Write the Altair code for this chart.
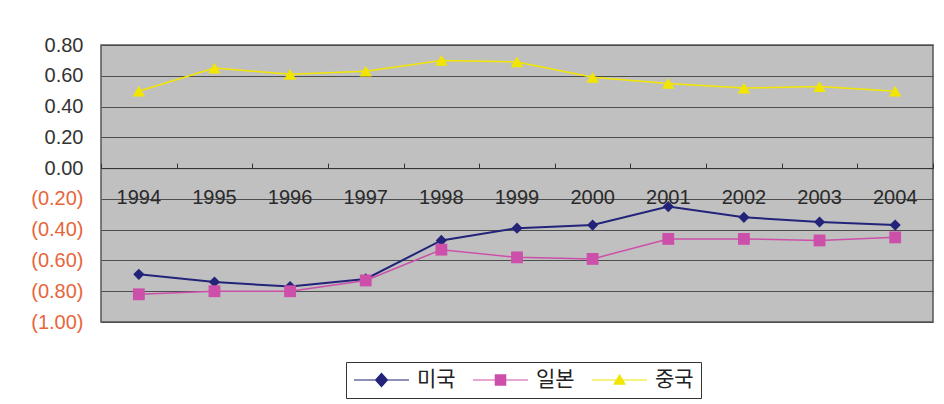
import altair as alt
import pandas as pd

years = ["1994", "1995", "1996", "1997", "1998", "1999", "2000", "2001", "2002", "2003", "2004"]
usa = [-0.69, -0.74, -0.77, -0.72, -0.47, -0.39, -0.37, -0.25, -0.32, -0.35, -0.37]
japan = [-0.82, -0.80, -0.80, -0.73, -0.53, -0.58, -0.59, -0.46, -0.46, -0.47, -0.45]
china = [0.50, 0.65, 0.61, 0.63, 0.70, 0.69, 0.59, 0.55, 0.52, 0.53, 0.50]
series = ["미국", "일본", "중국"]
colors = ["#23237A", "#CC4FAA", "#F2E600"]
line_widths = [2, 1.5, 1.5]
chart_shapes = ["diamond", "square", "triangle-up"]
chart_sizes = [125, 140, 155]
y_ticks = [-1.0, -0.8, -0.6, -0.4, -0.2, 0.0, 0.2, 0.4, 0.6, 0.8]


# ---- legend glyphs: line segment + marker (drawn as stroked hatch so it looks filled)
def _f(v):
    return f"{v:.3f}"


def hatch(half_width_at, y_top, y_bot, step=0.03):
    parts = ["M-1,0H1"]
    y = y_top
    while y <= y_bot + 1e-9:
        hw = half_width_at(y)
        if hw > 0:
            parts.append(f"M{_f(-hw)},{_f(y)}H{_f(hw)}")
        y += step
    return "".join(parts)


_da, _db = 0.22, 0.24
diamond_path = hatch(lambda y: _da * (1 - abs(y) / _db), -_db, _db) + \
    f"M{_f(-_da)},0L0,{_f(-_db)}L{_f(_da)},0L0,{_f(_db)}Z"
_s = 0.19
square_path = hatch(lambda y: _s, -_s, _s) + f"M{_f(-_s)},{_f(-_s)}H{_f(_s)}V{_f(_s)}H{_f(-_s)}Z"
_ty0, _ty1, _tw = -0.19, 0.15, 0.2
triangle_path = hatch(lambda y: _tw * (y - _ty0) / (_ty1 - _ty0), _ty0, _ty1) + \
    f"M0,{_f(_ty0)}L{_f(_tw)},{_f(_ty1)}H{_f(-_tw)}Z"
legend_shapes = [diamond_path, square_path, triangle_path]

rows = []
for s, vals in zip(series, [usa, japan, china]):
    for yr, v in zip(years, vals):
        rows.append({"year": yr, "series": s, "value": v})
df = pd.DataFrame(rows)

W, H = 832, 277
Y_MIN, Y_MAX = -1.0, 0.8
y0 = H * (Y_MAX - 0) / (Y_MAX - Y_MIN)

xscale = alt.Scale(type="band", paddingInner=0, paddingOuter=0)
yscale = alt.Scale(domain=[Y_MIN, Y_MAX], nice=False, zero=False)

# accounting style: negatives in parentheses, positives padded where the ")" would be
label_expr = ("datum.value < 0 ? '(' + format(-datum.value, '.2f') + ')' "
              ": format(datum.value, '.2f') + '\u00a0'")

y_axis = alt.Axis(
    values=y_ticks, labelExpr=label_expr,
    labelColor={"condition": {"test": "datum.value < 0", "value": "#E8653A"}, "value": "#333333"},
    grid=True, gridColor="#4d4d4d", gridWidth=1, ticks=False, tickSize=0,
    domain=False, labelPadding=18, labelFontSize=20, labelFont="Liberation Sans",
    title=None,
)
Y = alt.Y("value:Q", scale=yscale, axis=y_axis)

top_axis = alt.Axis(
    orient="top", offset=-y0, labels=False, ticks=True, tickSize=5,
    tickBand="extent", tickColor="#333333", domain=True, domainColor="#333333",
    grid=False, title=None,
)
bottom_axis = alt.Axis(
    orient="bottom", offset=-(H - y0), labels=True, ticks=False, tickSize=0,
    domain=False, grid=False, labelPadding=19, labelFontSize=20,
    labelFont="Liberation Sans", labelColor="#2a2a2a", labelAngle=0, title=None,
)

base = alt.Chart(df)

line_layers = []
point_layers = []
for i, (s, c, lw, shp, sz) in enumerate(zip(series, colors, line_widths, chart_shapes, chart_sizes)):
    sub = base.transform_filter(alt.datum.series == s)
    line_layers.append(
        sub.mark_line(color=c, strokeWidth=lw).encode(
            x=alt.X("year:N", scale=xscale, axis=top_axis if i == 0 else None, sort=years),
            y=Y,
        )
    )
    point_layers.append(
        sub.mark_point(filled=True, opacity=1, size=sz, shape=shp, color=c).encode(
            x=alt.X("year:N", scale=xscale, axis=bottom_axis if i == 0 else None, sort=years),
            y=Y,
        )
    )

legend = alt.Legend(
    orient="none", legendX=245, legendY=317, direction="horizontal", title=None,
    fillColor="white", strokeColor="#333333", padding=7, symbolSize=3025,
    clipHeight=22, labelOffset=7, columnPadding=16, labelFontSize=21,
    labelFont="Noto Sans CJK KR", labelColor="#222222", symbolStrokeWidth=1.1,
    symbolOpacity=1, symbolFillColor="transparent",
)

# legend-only layer: no rows survive the filter, the legend comes from the explicit domains
legend_layer = base.transform_filter("false").mark_point(filled=False, size=10).encode(
    x=alt.X("year:N", scale=xscale, axis=None, sort=years),
    y=Y,
    color=alt.Color("series:N", scale=alt.Scale(domain=series, range=colors), legend=legend),
    shape=alt.Shape("series:N", scale=alt.Scale(domain=series, range=legend_shapes), legend=legend),
)

chart = alt.layer(*line_layers, *point_layers, legend_layer).resolve_axis(
    x="independent"
).properties(
    width=W, height=H,
    padding={"left": 101, "top": 45, "right": 11, "bottom": 82},
    autosize=alt.AutoSizeParams(type="none"),
    background="white",
).configure_view(
    fill="#C0C0C0", stroke="#555555", strokeWidth=1.5,
)

chart.save("out.html", embed_options={"renderer": "svg", "actions": False})
